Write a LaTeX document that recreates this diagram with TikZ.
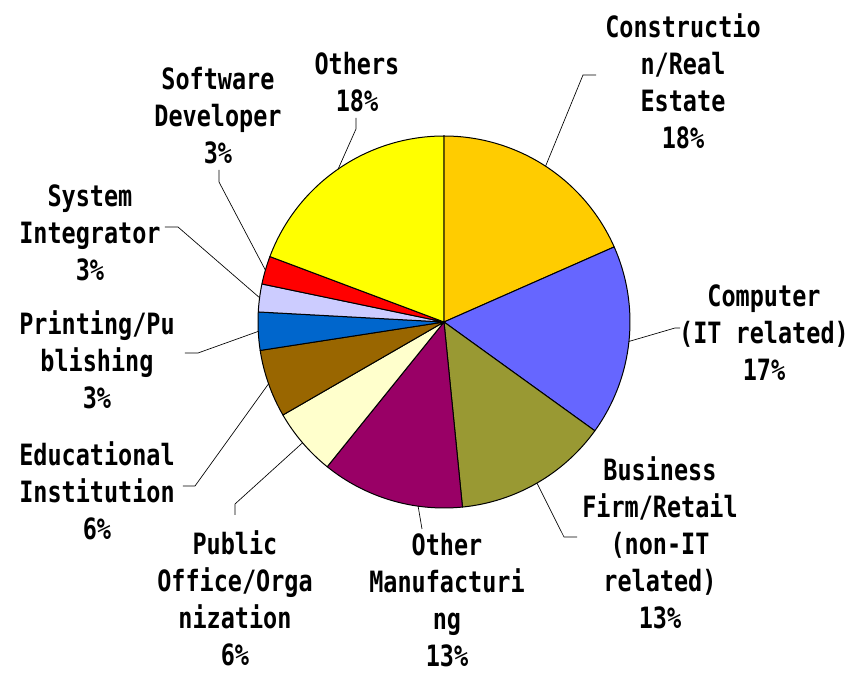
\documentclass[tikz,border=0pt]{standalone}
\usepackage{fontspec}
\newfontfamily\lblfont[FakeStretch=0.8]{DejaVu Sans Mono}
\definecolor{conyel}{HTML}{FFCC00}
\definecolor{compblue}{HTML}{6666FF}
\definecolor{busolive}{HTML}{999933}
\definecolor{mfgpurple}{HTML}{990066}
\definecolor{pubcream}{HTML}{FFFFCC}
\definecolor{edubrown}{HTML}{996600}
\definecolor{printblue}{HTML}{0066CC}
\definecolor{syslav}{HTML}{CCCCFF}
\definecolor{softred}{HTML}{FF0000}
\definecolor{othyel}{HTML}{FFFF00}
\begin{document}
\begin{tikzpicture}[x=0.75pt, y=0.75pt,
  slice/.style={draw=black, line width=0.75pt, line join=round},
  leader/.style={draw=black, line width=0.5pt},
  lbl/.style={font=\lblfont\bfseries\fontsize{22}{27.75}\selectfont, align=center, inner sep=0pt}]
  % pie, clockwise from the top
  \def\R{186}
  \useasboundingbox (-444,-351) rectangle (406,322);
  \coordinate (c) at (0,0);
  \filldraw[slice, fill=conyel]    (c) -- (90:\R)     arc (90:23.8:\R)      -- cycle;
  \filldraw[slice, fill=compblue]  (c) -- (23.8:\R)   arc (23.8:-35.8:\R)   -- cycle;
  \filldraw[slice, fill=busolive]  (c) -- (-35.8:\R)  arc (-35.8:-84.3:\R)  -- cycle;
  \filldraw[slice, fill=mfgpurple] (c) -- (-84.3:\R)  arc (-84.3:-128.9:\R) -- cycle;
  \filldraw[slice, fill=pubcream]  (c) -- (-128.9:\R) arc (-128.9:-150:\R)  -- cycle;
  \filldraw[slice, fill=edubrown]  (c) -- (-150:\R)   arc (-150:-171.2:\R)  -- cycle;
  \filldraw[slice, fill=printblue] (c) -- (-171.2:\R) arc (-171.2:-183.1:\R) -- cycle;
  \filldraw[slice, fill=syslav]    (c) -- (-183.1:\R) arc (-183.1:-191.8:\R) -- cycle;
  \filldraw[slice, fill=softred]   (c) -- (-191.8:\R) arc (-191.8:-200.6:\R) -- cycle;
  \filldraw[slice, fill=othyel]    (c) -- (-200.6:\R) arc (-200.6:-270:\R)  -- cycle;

  % labels
  \node[lbl] (con)   at (239,241)    {Constructio\\n/Real\\Estate\\18\%};
  \node[lbl] (comp)  at (320,-11)    {Computer\\(IT related)\\17\%};
  \node[lbl] (bus)   at (216,-220.5) {Business\\Firm/Retail\\(non-IT\\related)\\13\%};
  \node[lbl] (mfg)   at (3,-278)     {Other\\Manufacturi\\ng\\13\%};
  \node[lbl] (pub)   at (-209,-276.5){Public\\Office/Orga\\nization\\6\%};
  \node[lbl] (edu)   at (-347,-168.5){Educational\\Institution\\6\%};
  \node[lbl] (print) at (-347,-37.5) {Printing/Pu\\blishing\\3\%};
  \node[lbl] (sys)   at (-354,89.5)  {System\\Integrator\\3\%};
  \node[lbl] (soft)  at (-226,206.5) {Software\\Developer\\3\%};
  \node[lbl] (oth)   at (-87,239.5)  {Others\\18\%};

  % leader lines
  \coordinate (con-e) at (56.9:\R);   \coordinate (con-b) at (139,247);  \coordinate (con-t) at (152,247);
  \coordinate (comp-e) at (-6:\R);    \coordinate (comp-b) at (231,-6);  \coordinate (comp-t) at (236,-6);
  \coordinate (bus-e) at (-60:\R);    \coordinate (bus-b) at (120,-215); \coordinate (bus-t) at (133,-215);
  \coordinate (mfg-e) at (-98:\R);    \coordinate (mfg-t) at (-22,-207);
  \coordinate (pub-e) at (-139.5:\R); \coordinate (pub-b) at (-209,-182); \coordinate (pub-t) at (-209,-193);
  \coordinate (edu-e) at (-160.6:\R); \coordinate (edu-b) at (-249,-164); \coordinate (edu-t) at (-261,-164);
  \coordinate (print-e) at (182.9:\R); \coordinate (print-b) at (-246,-31); \coordinate (print-t) at (-259,-31);
  \coordinate (sys-e) at (172.5:\R);  \coordinate (sys-b) at (-266,95);  \coordinate (sys-t) at (-279,95);
  \coordinate (soft-e) at (163.8:\R); \coordinate (soft-b) at (-225,140); \coordinate (soft-t) at (-225,152);
  \coordinate (oth-e) at (124.7:\R);  \coordinate (oth-b) at (-88,193);  \coordinate (oth-t) at (-88,204);
  \draw[leader] (con-e) -- (con-b) -- (con-t);
  \draw[leader] (comp-e) -- (comp-b) -- (comp-t);
  \draw[leader] (bus-e) -- (bus-b) -- (bus-t);
  \draw[leader] (mfg-e) -- (mfg-t);
  \draw[leader] (pub-e) -- (pub-b) -- (pub-t);
  \draw[leader] (edu-e) -- (edu-b) -- (edu-t);
  \draw[leader] (print-e) -- (print-b) -- (print-t);
  \draw[leader] (sys-e) -- (sys-b) -- (sys-t);
  \draw[leader] (soft-e) -- (soft-b) -- (soft-t);
  \draw[leader] (oth-e) -- (oth-b) -- (oth-t);
\end{tikzpicture}
\end{document}
